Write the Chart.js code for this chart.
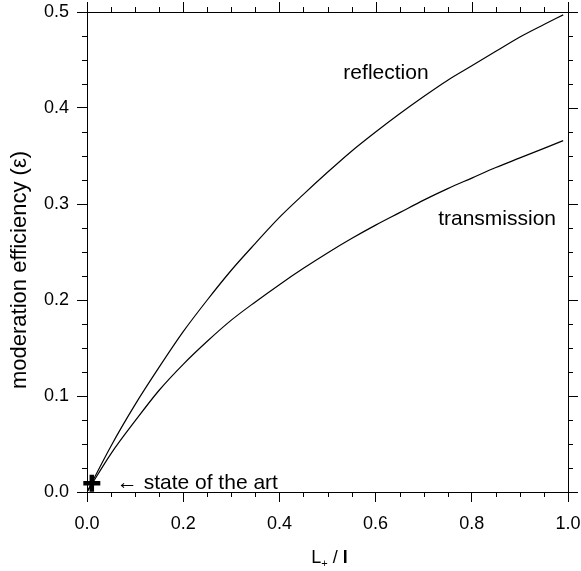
<!DOCTYPE html>
<html>
<head>
<meta charset="utf-8">
<script src="https://cdn.jsdelivr.net/npm/chart.js@4.4.1/dist/chart.umd.min.js"></script>
<style>
  html, body { margin: 0; padding: 0; background: #fff; }
  #wrap { width: 581px; height: 571px; }
</style>
</head>
<body>
<div id="wrap"><canvas id="chart" width="581" height="571"></canvas></div>
<script>
// values
const xValues = [0, 0.05, 0.1, 0.15, 0.2, 0.25, 0.3, 0.35, 0.4, 0.45, 0.5,
  0.55, 0.6, 0.65, 0.7, 0.75, 0.8, 0.85, 0.9, 0.95, 0.99];
const reflection = [0, 0.048, 0.091, 0.130, 0.167, 0.200, 0.231, 0.259, 0.286, 0.310, 0.333,
  0.355, 0.375, 0.394, 0.412, 0.429, 0.444, 0.459, 0.474, 0.487, 0.497];
const transmission = [0, 0.040, 0.074, 0.106, 0.133, 0.157, 0.179, 0.198, 0.216, 0.233, 0.249,
  0.264, 0.278, 0.291, 0.304, 0.316, 0.327, 0.338, 0.348, 0.358, 0.366];
const stateOfArt = [{ x: 0.01, y: 0.009 }];

const xMajorTicks = [0, 0.2, 0.4, 0.6, 0.8, 1.0];
const yMajorTicks = [0, 0.1, 0.2, 0.3, 0.4, 0.5];
const xMinorTicks = [0.05, 0.1, 0.15, 0.25, 0.3, 0.35, 0.45, 0.5, 0.55, 0.65, 0.7, 0.75, 0.85, 0.9, 0.95];
const yMinorTicks = [0.025, 0.05, 0.075, 0.125, 0.15, 0.175, 0.225, 0.25, 0.275,
  0.325, 0.35, 0.375, 0.425, 0.45, 0.475];

const labels = [
  { text: "reflection", x: 0.533, y: 0.430 },
  { text: "transmission", x: 0.730, y: 0.278 },
  { text: "\u2190 state of the art", x: 0.062, y: 0.003 }
];

const FONT = "'Liberation Sans', Arial, sans-serif";

const toPairs = (ys) => xValues.map((x, i) => ({ x, y: ys[i] }));

// frame, mirrored ticks, titles and text labels
const decorations = {
  id: "decorations",
  afterDraw(chart) {
    const { ctx, chartArea: a, scales } = chart;
    const xs = scales.x, ys = scales.y;
    ctx.save();
    ctx.strokeStyle = "#000";
    ctx.lineWidth = 1;
    ctx.strokeRect(Math.round(a.left) + 0.5, Math.round(a.top) + 0.5,
      Math.round(a.right - a.left), Math.round(a.bottom - a.top));

    const tick = (x1, y1, x2, y2) => {
      ctx.beginPath();
      ctx.moveTo(x1, y1);
      ctx.lineTo(x2, y2);
      ctx.stroke();
    };
    xMajorTicks.forEach(v => {
      const px = Math.round(xs.getPixelForValue(v)) + 0.5;
      tick(px, a.top, px, a.top - 10);
    });
    xMinorTicks.forEach(v => {
      const px = Math.round(xs.getPixelForValue(v)) + 0.5;
      tick(px, a.bottom, px, a.bottom + 5);
      tick(px, a.top, px, a.top - 5);
    });
    yMajorTicks.forEach(v => {
      const py = Math.round(ys.getPixelForValue(v)) + 0.5;
      tick(a.right, py, a.right + 10, py);
    });
    yMinorTicks.forEach(v => {
      const py = Math.round(ys.getPixelForValue(v)) + 0.5;
      tick(a.left, py, a.left - 5, py);
      tick(a.right, py, a.right + 5, py);
    });

    ctx.fillStyle = "#000";
    ctx.font = "21px " + FONT;
    ctx.textBaseline = "alphabetic";
    ctx.textAlign = "left";
    labels.forEach(l => {
      ctx.fillText(l.text, xs.getPixelForValue(l.x), ys.getPixelForValue(l.y));
    });

    // x title: L+ / l
    const cx = (a.left + a.right) / 2 + 2;
    const base = 563;
    ctx.font = "18px " + FONT;
    const wL = ctx.measureText("L").width;
    ctx.font = "11px " + FONT;
    const wSub = ctx.measureText("+").width;
    ctx.font = "18px " + FONT;
    const wSlash = ctx.measureText(" / ").width;
    ctx.font = "bold 18px " + FONT;
    const wl = ctx.measureText("l").width;
    let x0 = cx - (wL + wSub + wSlash + wl) / 2;
    ctx.font = "18px " + FONT;
    ctx.fillText("L", x0, base); x0 += wL;
    ctx.font = "11px " + FONT;
    ctx.fillText("+", x0, base + 4); x0 += wSub;
    ctx.font = "18px " + FONT;
    ctx.fillText(" / ", x0, base); x0 += wSlash;
    ctx.font = "bold 18px " + FONT;
    ctx.fillText("l", x0, base);

    // y title
    ctx.translate(26, 270);
    ctx.rotate(-Math.PI / 2);
    ctx.font = "22px " + FONT;
    ctx.textAlign = "center";
    ctx.fillText("moderation efficiency (\u03b5)", 0, 0);
    ctx.restore();
  }
};

new Chart(document.getElementById("chart"), {
  type: "scatter",
  data: {
    datasets: [
      {
        label: "reflection",
        data: toPairs(reflection),
        showLine: true,
        borderColor: "#000",
        borderWidth: 1.2,
        pointRadius: 0,
        cubicInterpolationMode: "monotone"
      },
      {
        label: "transmission",
        data: toPairs(transmission),
        showLine: true,
        borderColor: "#000",
        borderWidth: 1.2,
        pointRadius: 0,
        cubicInterpolationMode: "monotone"
      },
      {
        label: "state of the art",
        data: stateOfArt,
        pointStyle: "cross",
        pointRadius: 8.5,
        borderColor: "#000",
        borderWidth: 4.5,
        clip: false
      }
    ]
  },
  options: {
    responsive: false,
    animation: false,
    layout: { autoPadding: false, padding: { top: 12, right: 13, left: 0, bottom: 0 } },
    plugins: {
      legend: { display: false },
      tooltip: { enabled: false }
    },
    scales: {
      x: {
        type: "linear",
        min: 0,
        max: 1,
        afterFit: (s) => {
          s.height = 79;
          s.paddingLeft = 0;
          s.paddingRight = 0;
        },
        afterBuildTicks: (s) => { s.ticks = xMajorTicks.map(v => ({ value: v })); },
        ticks: {
          color: "#000",
          font: { family: FONT, size: 18 },
          padding: 11,
          maxRotation: 0,
          callback: (v) => v.toFixed(1)
        },
        grid: { drawOnChartArea: false, tickLength: 10, color: "#000" },
        border: { display: false }
      },
      y: {
        type: "linear",
        min: 0,
        max: 0.5,
        afterFit: (s) => {
          s.width = 87;
          s.paddingTop = 0;
          s.paddingBottom = 0;
        },
        afterBuildTicks: (s) => { s.ticks = yMajorTicks.map(v => ({ value: v })); },
        ticks: {
          color: "#000",
          font: { family: FONT, size: 18 },
          padding: 8,
          callback: (v) => v.toFixed(1)
        },
        grid: { drawOnChartArea: false, tickLength: 10, color: "#000" },
        border: { display: false }
      }
    }
  },
  plugins: [decorations]
});
</script>
</body>
</html>
